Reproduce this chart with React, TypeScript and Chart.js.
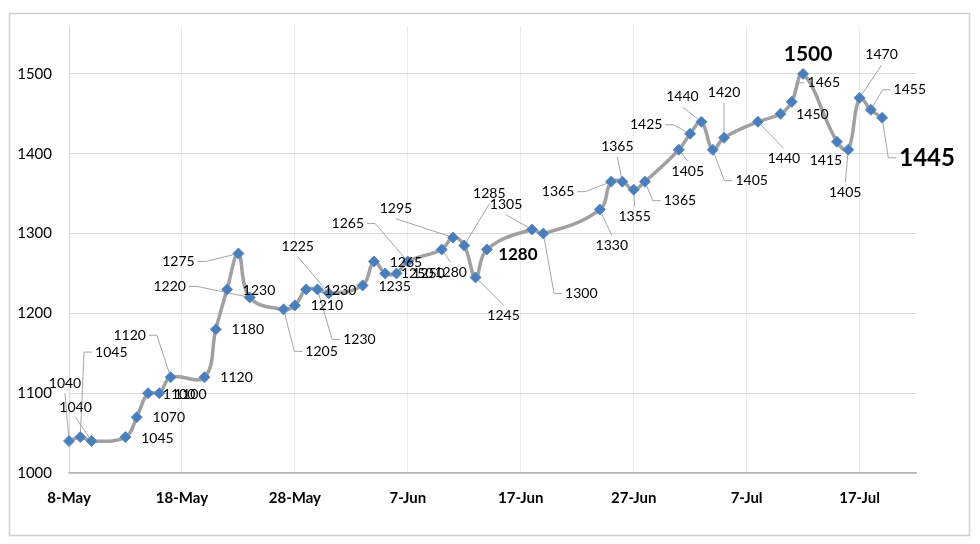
import React, { useEffect, useRef } from "react";
import { Chart, registerables } from "chart.js";

Chart.register(...registerables);

// ---- data ----
const startDate = "2019-05-08";
const dates = [
  "2019-05-08", "2019-05-09", "2019-05-10", "2019-05-13", "2019-05-14", "2019-05-15", "2019-05-16",
  "2019-05-17", "2019-05-20", "2019-05-21", "2019-05-22", "2019-05-23", "2019-05-24", "2019-05-27",
  "2019-05-28", "2019-05-29", "2019-05-30", "2019-05-31", "2019-06-03", "2019-06-04", "2019-06-05",
  "2019-06-06", "2019-06-07", "2019-06-10", "2019-06-11", "2019-06-12", "2019-06-13", "2019-06-14",
  "2019-06-18", "2019-06-19", "2019-06-24", "2019-06-25", "2019-06-26", "2019-06-27", "2019-06-28",
  "2019-07-01", "2019-07-02", "2019-07-03", "2019-07-04", "2019-07-05", "2019-07-08", "2019-07-10",
  "2019-07-11", "2019-07-12", "2019-07-15", "2019-07-16", "2019-07-17", "2019-07-18", "2019-07-19",
];
const values = [
  1040, 1045, 1040, 1045, 1070, 1100, 1100, 1120, 1120, 1180, 1230, 1275, 1220, 1205, 1210, 1230,
  1230, 1225, 1235, 1265, 1250, 1250, 1265, 1280, 1295, 1285, 1245, 1280, 1305, 1300, 1330, 1365,
  1365, 1355, 1365, 1405, 1425, 1440, 1405, 1420, 1440, 1450, 1465, 1500, 1415, 1405, 1470, 1455,
  1445,
];
const xTickLabels = ["8-May", "18-May", "28-May", "7-Jun", "17-Jun", "27-Jun", "7-Jul", "17-Jul"];
const yTickValues = [1000, 1100, 1200, 1300, 1400, 1500];

// ---- label layout (offset of label centre from its point, leader style) ----
const labelOffsets: [number, number][] = [
  [-4, -58], [31, -85], [-16, -34], [32, 1], [32, 0], [31, 1], [31, 1], [-41, -42], [32, 0],
  [32, 0], [32, 1], [-60, 8], [-80, -11], [38, 42], [32, 0], [34, 1], [42, 50], [-31, -47],
  [32, 1], [32, 1], [32, 0], [32, 0], [-60, -38], [9, 23], [-57, -29], [25, -52], [28, 38],
  [31, 5], [-26, -25], [38, 60], [12, 36], [-53, 10], [-5, -35], [1, 27], [35, 19], [9, 22],
  [-44, -9], [-19, -25], [39, 31], [0, -45], [26, 37], [32, 1], [32, -19], [5, -20], [-11, 19],
  [-3, 43], [22, -43], [39, -20], [45, 40],
];
const leaderModes = [
  "v", "h", "v", "", "", "", "", "h", "", "", "", "h", "h", "h", "", "", "h", "v",
  "", "", "", "", "h", "v", "v", "v", "v", "", "v", "h", "v", "h", "v", "v", "h", "v",
  "h", "v", "h", "v", "v", "", "h", "", "", "v", "v", "h", "h",
];
const emphasisSizes: Record<number, number> = { 27: 17, 43: 21, 48: 24 };

const DAY = 86400000;
const dayOffset = (d: string) => Math.round((Date.parse(d) - Date.parse(startDate)) / DAY);

const FONT = "Lato, 'Open Sans', sans-serif";

const labelPlugin = {
  id: "pointLabels",
  beforeDatasetsDraw(chart: any) {
    const ctx = chart.ctx;
    const meta = chart.getDatasetMeta(0);
    ctx.save();
    ctx.strokeStyle = "#a6a6a6";
    ctx.lineWidth = 1;
    meta.data.forEach((pt: any, i: number) => {
      const mode = leaderModes[i];
      if (!mode) return;
      const [dx, dy] = labelOffsets[i];
      const size = emphasisSizes[i] || 14;
      ctx.font = `${emphasisSizes[i] ? "bold " : ""}${size}px ${FONT}`;
      const w = ctx.measureText(String(values[i])).width;
      const h = size * 0.75;
      const lx = pt.x + dx;
      const ly = pt.y + dy;
      ctx.beginPath();
      if (mode === "h") {
        const s = dx > 0 ? 1 : -1;
        const ax = lx - s * (w / 2 + 3);
        const bx = ax - s * 8;
        ctx.moveTo(ax, ly);
        ctx.lineTo(bx, ly);
        ctx.lineTo(pt.x, pt.y);
      } else {
        const ay = dy < 0 ? ly + h / 2 + 5 : ly - h / 2 - 5;
        ctx.moveTo(lx, ay);
        ctx.lineTo(pt.x, pt.y);
      }
      ctx.stroke();
    });
    ctx.restore();
  },
  afterDatasetsDraw(chart: any) {
    const ctx = chart.ctx;
    const meta = chart.getDatasetMeta(0);
    ctx.save();
    ctx.fillStyle = "#000";
    ctx.textAlign = "center";
    ctx.textBaseline = "middle";
    meta.data.forEach((pt: any, i: number) => {
      const [dx, dy] = labelOffsets[i];
      const size = emphasisSizes[i] || 14;
      ctx.font = `${emphasisSizes[i] ? "bold " : ""}${size}px ${FONT}`;
      ctx.fillText(String(values[i]), pt.x + dx, pt.y + dy);
    });
    ctx.restore();
  },
};

const framePlugin = {
  id: "frame",
  beforeDraw(chart: any) {
    const ctx = chart.ctx;
    ctx.save();
    ctx.fillStyle = "#fff";
    ctx.fillRect(0, 0, chart.width, chart.height);
    ctx.strokeStyle = "#cfcfcf";
    ctx.lineWidth = 1.5;
    ctx.strokeRect(9.5, 13.5, 960, 522);
    ctx.restore();
  },
};

export default function App() {
  const ref = useRef<HTMLCanvasElement>(null);
  useEffect(() => {
    if (!ref.current) return;
    const points = dates.map((d, i) => ({ x: dayOffset(d), y: values[i] }));
    const chart = new Chart(ref.current, {
      type: "line",
      data: {
        datasets: [
          {
            data: points,
            borderColor: "#a0a0a0",
            borderWidth: 3.5,
            tension: 0.4,
            clip: false,
            pointStyle: "rectRot",
            pointRadius: 5.5,
            pointBackgroundColor: "#4a7ebb",
            pointBorderColor: "#5a8ac6",
            pointBorderWidth: 1,
          },
        ],
      },
      options: {
        animation: false,
        responsive: false,
        devicePixelRatio: 1,
        layout: { padding: { top: 24, right: 64, left: 0, bottom: 0 } },
        plugins: { legend: { display: false }, tooltip: { enabled: false } },
        scales: {
          x: {
            type: "linear",
            min: 0,
            max: 75,
            afterFit: (s: any) => {
              s.height = 71;
            },
            afterBuildTicks: (s: any) => {
              s.ticks = xTickLabels.map((_, i) => ({ value: i * 10 }));
            },
            ticks: {
              callback: (_v: any, i: number) => xTickLabels[i],
              font: { family: FONT, size: 15, weight: "bold" },
              color: "#000",
              padding: 16,
              maxRotation: 0,
              autoSkip: false,
            },
            grid: { color: "#ececec", drawTicks: false },
            border: { color: "#b5b5b5", width: 1.5 },
          },
          y: {
            min: 1000,
            max: 1560,
            afterFit: (s: any) => {
              s.width = 69;
            },
            afterBuildTicks: (s: any) => {
              s.ticks = yTickValues.map((v) => ({ value: v }));
            },
            ticks: {
              callback: (v: any) => String(v),
              font: { family: FONT, size: 15 },
              color: "#000",
              padding: 17,
            },
            grid: { color: "#d9d9d9", drawTicks: false },
            border: { color: "#d9d9d9" },
          },
        },
      },
      plugins: [framePlugin, labelPlugin],
    });
    return () => chart.destroy();
  }, []);
  return (
    <div style={{ position: "fixed", left: 0, top: 0, width: 980, height: 544, background: "#fff" }}>
      <canvas ref={ref} width={980} height={544} style={{ width: 980, height: 544, display: "block" }} />
    </div>
  );
}
